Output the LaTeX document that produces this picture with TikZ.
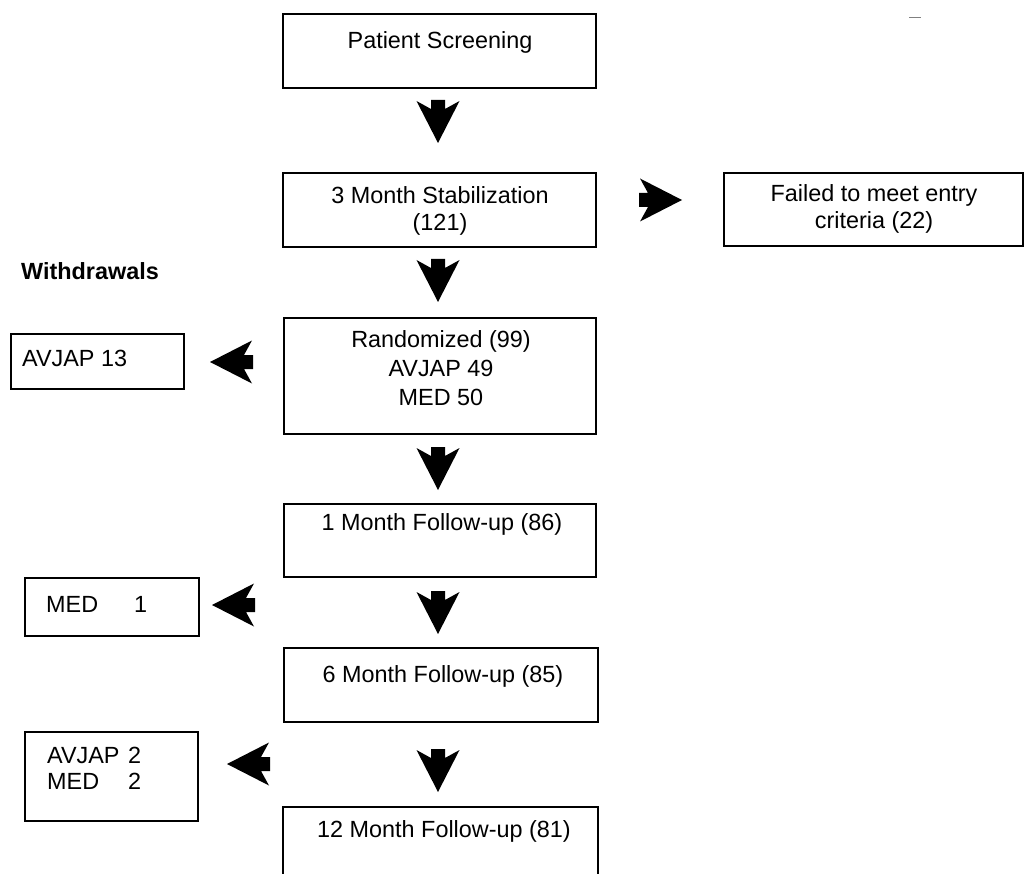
\documentclass[tikz,border=0pt]{standalone}
\usepackage{fontspec}
\setmainfont{Liberation Sans}
\begin{document}
\begin{tikzpicture}[x=1pt,y=1pt,
  box/.style={draw, line width=1.6pt, inner sep=0pt, anchor=north west},
  txt/.style={inner sep=0pt, anchor=base, font=\fontsize{23.4}{28}\selectfont},
  ltxt/.style={txt, anchor=base west},
  barrow/.pic={\fill (0,-7) -- (9,-7) -- (1,-21.5) -- (43,0) -- (1,21.5) -- (9,7) -- (0,7) -- cycle;}]
\clip (0,0) rectangle (1027,-874);
\fill[white] (0,0) rectangle (1027,-874);
% boxes
\node[box, minimum width=313pt, minimum height=74pt] (ps) at (282,-13) {};
\node[box, minimum width=313pt, minimum height=74pt] (stab) at (282,-172) {};
\node[box, minimum width=299pt, minimum height=73pt] (fail) at (723,-172) {};
\node[box, minimum width=312pt, minimum height=116pt] (rand) at (283,-317) {};
\node[box, minimum width=312pt, minimum height=73pt] (m1) at (283,-503) {};
\node[box, minimum width=314pt, minimum height=74pt] (m6) at (283,-647) {};
\node[box, minimum width=315pt, minimum height=90pt] (m12) at (282,-806) {};
\node[box, minimum width=173pt, minimum height=55pt] (w1) at (10,-333) {};
\node[box, minimum width=174pt, minimum height=58pt] (w2) at (24,-577) {};
\node[box, minimum width=173pt, minimum height=89pt] (w3) at (24,-731) {};
% texts
\node[txt] (tps) at (440,-49) {Patient Screening};
\node[txt] (tstab1) at (440,-204) {3 Month Stabilization};
\node[txt] (tstab2) at (440,-231) {(121)};
\node[txt] (tfail1) at (874,-202) {Failed to meet entry};
\node[txt] (tfail2) at (874,-229) {criteria (22)};
\node[txt] (trand1) at (441,-347) {Randomized (99)};
\node[txt] (trand2) at (441,-376) {AVJAP 49};
\node[txt] (trand3) at (441,-405) {MED 50};
\node[txt] (tm1) at (442,-530) {1 Month Follow-up (86)};
\node[txt] (tm6) at (443,-682) {6 Month Follow-up (85)};
\node[txt] (tm12) at (444,-837) {12 Month Follow-up (81)};
\node[ltxt, font=\fontsize{23.4}{28}\selectfont\bfseries] (twd) at (21,-280) {Withdrawals};
\node[ltxt] (tw1) at (22,-366) {AVJAP 13};
\node[ltxt] (tw2) at (46,-612) {\makebox[88pt][l]{MED}1};
\node[ltxt] (tw3a) at (47,-763) {\makebox[81pt][l]{AVJAP}2};
\node[ltxt] (tw3b) at (47,-789) {\makebox[81pt][l]{MED}2};
% block arrows
\pic[rotate=-90] at (438,-100) {barrow};
\pic[rotate=-90] at (438,-259) {barrow};
\pic[rotate=-90] at (438,-447) {barrow};
\pic[rotate=-90] at (438,-591) {barrow};
\pic[rotate=-90] at (438,-749) {barrow};
\pic at (639,-200) {barrow};
\pic[rotate=180] at (253,-362) {barrow};
\pic[rotate=180] at (255,-605) {barrow};
\pic[rotate=180] at (270,-764) {barrow};
% scan mark
\draw[gray, line width=1pt] (909,-18) -- (921,-18);
\end{tikzpicture}
\end{document}
